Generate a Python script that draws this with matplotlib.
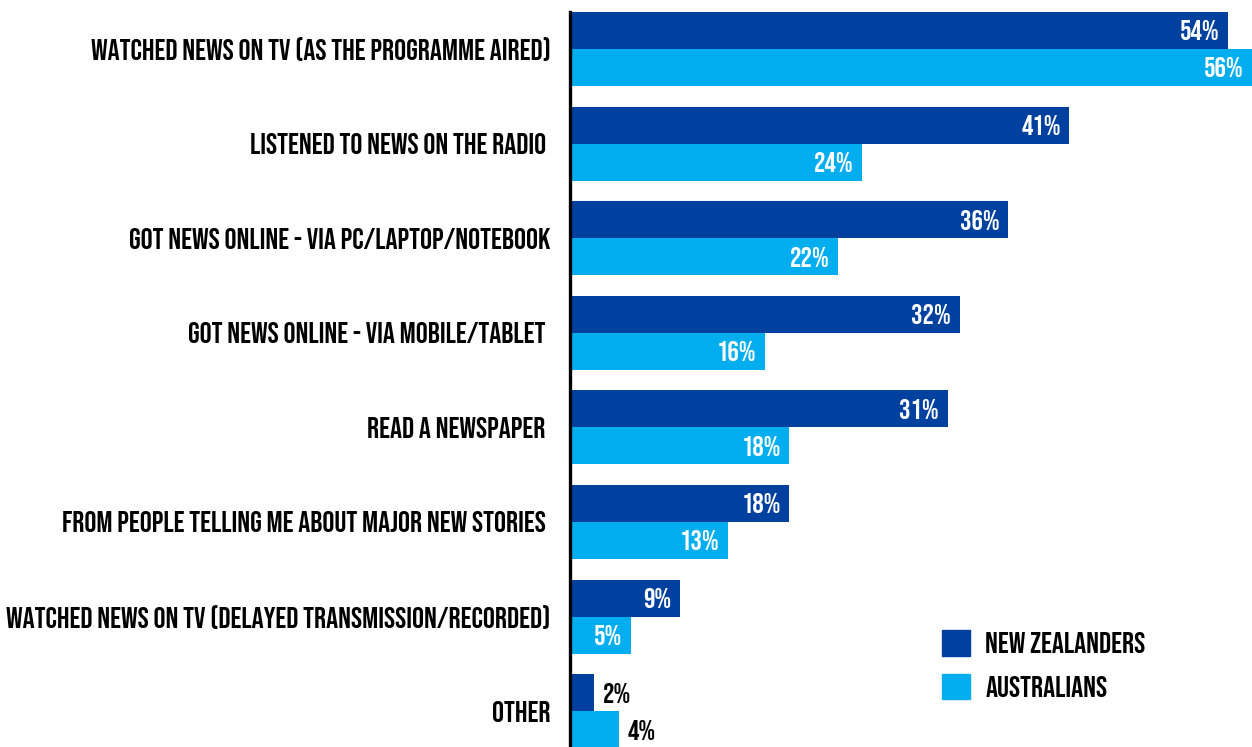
import numpy as np
import matplotlib
matplotlib.use('Agg')
import matplotlib.pyplot as plt
from matplotlib.patches import Patch

# ── Data ─────────────────────────────────────────────────────────────────────
categories = [
    'WATCHED NEWS ON TV (AS THE PROGRAMME AIRED)',
    'LISTENED TO NEWS ON THE RADIO ',
    'GOT NEWS ONLINE - VIA PC/LAPTOP/NOTEBOOK',
    'GOT NEWS ONLINE - VIA MOBILE/TABLET ',
    'READ A NEWSPAPER ',
    'FROM PEOPLE TELLING ME ABOUT MAJOR NEW STORIES ',
    'WATCHED NEWS ON TV (DELAYED TRANSMISSION/RECORDED)',
    'OTHER',
]
nz_values = [54, 41, 36, 32, 31, 18, 9, 2]
au_values = [56, 24, 22, 16, 18, 13, 5, 4]
series_names = ['NEW ZEALANDERS', 'AUSTRALIANS']

NZ_COLOR = '#0041A0'
AU_COLOR = '#00AEEF'

plt.rcParams['font.family'] = ['Bebas Neue', 'Oswald', 'Barlow Condensed', 'DejaVu Sans']

# ── Plot ─────────────────────────────────────────────────────────────────────
fig = plt.figure(figsize=(12.52, 7.47), dpi=100)
ax = fig.add_axes([570 / 1252, 0, 1 - 570 / 1252, 1 - 12 / 747])

y = np.arange(len(categories))
h = 0.391

ax.barh(y - h / 2, nz_values, height=h, color=NZ_COLOR)
ax.barh(y + h / 2, au_values, height=h, color=AU_COLOR)

# value labels: white inside the bar, black outside when the bar is short
for vals, offs in ((nz_values, -h / 2), (au_values, h / 2)):
    for yi, v in zip(y, vals):
        if v >= 5:
            ax.text(v - 0.7, yi + offs, f'{v}%', color='white', fontsize=20.5,
                    ha='right', va='center')
        else:
            ax.text(v + 0.7, yi + offs, f'{v}%', color='black', fontsize=20.5,
                    ha='left', va='center')

ax.set_xlim(0, 56)
ax.set_ylim(-h + 7.77, -h)

ax.set_yticks(y)
ax.set_yticklabels(categories, fontsize=21.5)
ax.tick_params(axis='y', length=0, pad=14)
ax.set_xticks([])

for side in ('top', 'right', 'bottom'):
    ax.spines[side].set_visible(False)
ax.spines['left'].set_linewidth(2.4)
ax.spines['left'].set_color('black')

handles = [Patch(color=NZ_COLOR), Patch(color=AU_COLOR)]
fig.legend(handles, series_names, loc='upper left',
           bbox_to_anchor=(915 / 1252, 1 - 603 / 747), frameon=False,
           fontsize=21.5, handlelength=0.95, handleheight=0.95,
           handletextpad=0.5, labelspacing=0.6)

plt.savefig('out.png', dpi=100)
